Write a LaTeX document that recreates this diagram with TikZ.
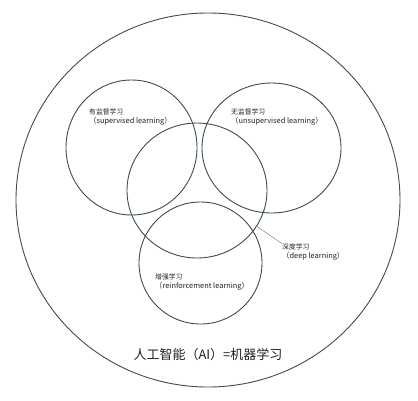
\documentclass[tikz,border=0pt]{standalone}
\usepackage{fontspec}
\setmainfont{Noto Sans CJK SC}
\usetikzlibrary{shapes.geometric}
\definecolor{ringgray}{HTML}{3E4C52}
\definecolor{textgray}{HTML}{222222}
\newcommand{\enline}[1]{{\fontsize{7.4}{9}\selectfont #1}}

\begin{document}
\begin{tikzpicture}[x=1pt,y=-1pt,
  ring/.style={ellipse, draw=ringgray, line width=0.9, inner sep=0},
  lbl/.style={anchor=north west, inner sep=0, align=left, text=textgray,
    font=\fontsize{6.8}{9}\selectfont}]
\useasboundingbox (0,0) rectangle (418,400);
\fill[white] (0,0) rectangle (418,400);

% the big circle
\node[ring, minimum width=384, minimum height=374] (ai) at (208,200) {};

% the four small circles
\node[ring, minimum width=131, minimum height=135] (sup) at (131.5,147.5) {};
\node[ring, minimum width=139, minimum height=130] (unsup) at (271.5,148) {};
\node[ring, minimum width=140, minimum height=135] (deep) at (197,190.5) {};
\node[ring, minimum width=123, minimum height=122] (reinf) at (200.5,263) {};

% labels
\node[lbl] (supl) at (89,108.5) {有监督学习\\\enline{（supervised learning）}};
\node[lbl] (unsupl) at (231,108.5) {无监督学习\\\enline{（unsupervised learning）}};
\node[lbl] (deepl) at (282,243.5) {深度学习\\\enline{（deep learning）}};
\node[lbl] (reinfl) at (155,273.5) {增强学习\\\enline{（reinforcement learning）}};
\node[text=textgray, font=\fontsize{13}{15}\selectfont] (ail) at (208,355) {人工智能（AI）=机器学习};

% leader to deep learning
\draw[ringgray!60, line width=0.6] (deep.-31) -- (deepl.north west);
\end{tikzpicture}
\end{document}
